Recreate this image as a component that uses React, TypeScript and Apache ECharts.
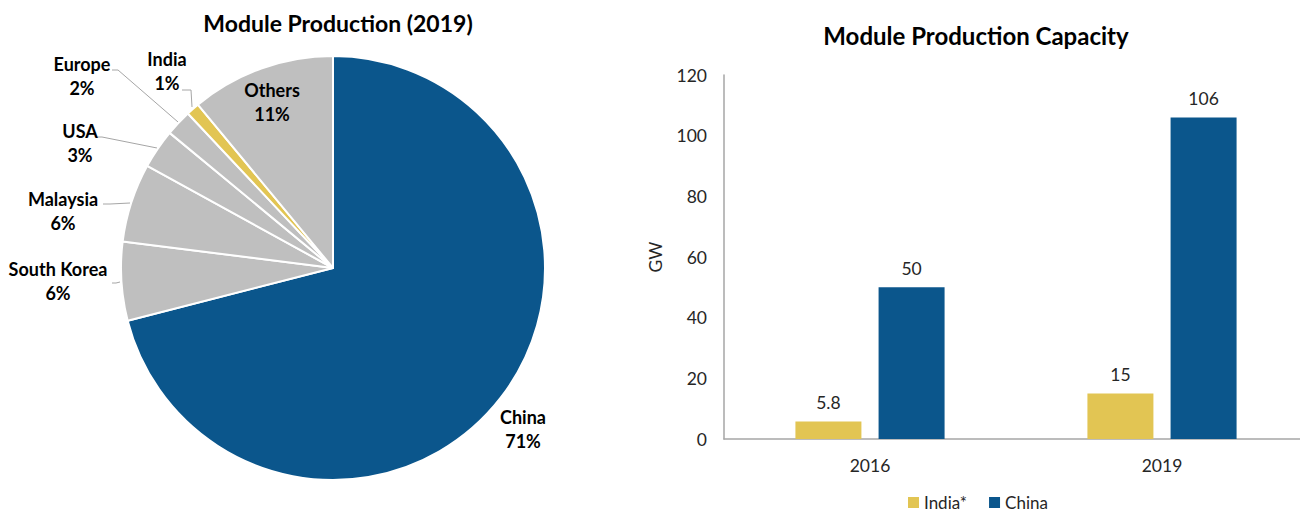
import React, { useEffect, useRef } from "react";
import * as echarts from "echarts";

const FONT = "Lato, 'Open Sans', sans-serif";

const pieNames = ["China", "South Korea", "Malaysia", "USA", "Europe", "India", "Others"];
const pieValues = [71, 6, 6, 3, 2, 1, 11];

const barCategories = ["2016", "2019"];
const indiaValues = [5.8, 15];
const chinaValues = [50, 106];

const BLUE = "#0B568C";
const GRAY = "#BFBFBF";
const YELLOW = "#E2C553";
const pieColors: Record<string, string> = {
  China: BLUE,
  India: YELLOW,
};

// label placement (anchor = centre of two-line label) and leader lines
const labelPlacement: Record<string, { x: number; y: number; line?: number[][] }> = {
  China: { x: 523, y: 429 },
  "South Korea": { x: 58, y: 281, line: [[120, 282], [116, 283], [112, 283]] },
  Malaysia: { x: 63, y: 211, line: [[130, 203], [110, 204], [103, 204]] },
  USA: { x: 80, y: 143, line: [[157, 148], [102, 137], [97, 137]] },
  Europe: { x: 82, y: 76, line: [[178, 122], [118, 70], [112, 70]] },
  India: { x: 167, y: 71, line: [[192, 107], [191, 90], [182, 90]] },
  Others: { x: 272, y: 102 },
};

export default function App() {
  const ref = useRef<HTMLDivElement>(null);
  useEffect(() => {
    if (!ref.current) return;
    const chart = echarts.init(ref.current, null, { renderer: "svg" });
    chart.setOption({
      animation: false,
      backgroundColor: "#ffffff",
      textStyle: { fontFamily: FONT },
      title: [
        {
          text: "Module Production (2019)",
          left: 338,
          top: 11,
          textAlign: "center",
          padding: 0,
          textStyle: { fontFamily: FONT, fontSize: 23, fontWeight: "bold", color: "#000" },
        },
        {
          text: "Module Production Capacity",
          left: 976,
          top: 23,
          textAlign: "center",
          padding: 0,
          textStyle: { fontFamily: FONT, fontSize: 24, fontWeight: "bold", color: "#000" },
        },
      ],
      legend: {
        data: ["India*", "China"],
        left: 908,
        top: 494,
        padding: 0,
        itemWidth: 11,
        itemHeight: 11,
        itemGap: 22,
        icon: "rect",
        textStyle: { fontFamily: FONT, fontSize: 17, color: "#262626", lineHeight: 16 },
      },
      grid: { left: 724, top: 75, width: 584, height: 364 },
      xAxis: {
        type: "category",
        data: barCategories,
        axisLine: { show: true, lineStyle: { color: "#a6a6a6", width: 1.5 } },
        axisTick: { show: false },
        axisLabel: { fontFamily: FONT, fontSize: 17.5, color: "#262626", margin: 17 },
      },
      yAxis: {
        type: "value",
        min: 0,
        max: 120,
        interval: 20,
        name: "GW",
        nameLocation: "middle",
        nameGap: 60,
        nameTextStyle: { fontFamily: FONT, fontSize: 17.5, color: "#262626" },
        axisLine: { show: true, lineStyle: { color: "#a6a6a6", width: 1.5 } },
        axisTick: { show: false },
        splitLine: { show: false },
        axisLabel: { fontFamily: FONT, fontSize: 17.5, color: "#262626", margin: 17 },
      },
      series: [
        {
          type: "pie",
          center: [333, 268],
          radius: 212,
          startAngle: 90,
          clockwise: true,
          silent: true,
          itemStyle: { borderColor: "#fff", borderWidth: 2 },
          label: {
            show: true,
            position: "outside",
            formatter: "{b}\n{c}%",
            fontFamily: FONT,
            fontSize: 18,
            fontWeight: "bold",
            color: "#000",
            lineHeight: 24,
            align: "center",
            overflow: "none",
          },
          labelLine: { show: true, lineStyle: { color: "#a6a6a6", width: 1 } },
          labelLayout: (params: any) => {
            const name = pieNames[params.dataIndex];
            const p = labelPlacement[name];
            const out: any = { x: p.x, y: p.y, align: "center", verticalAlign: "middle" };
            if (p.line) out.labelLinePoints = p.line;
            return out;
          },
          data: pieNames.map((n, i) => ({
            name: n,
            value: pieValues[i],
            itemStyle: { color: pieColors[n] || GRAY },
            labelLine: { show: !!labelPlacement[n].line },
          })),
        },
        {
          type: "bar",
          name: "India*",
          data: indiaValues,
          barWidth: 66,
          barGap: "26%",
          itemStyle: { color: YELLOW },
          label: {
            show: true,
            position: "top",
            distance: 10,
            fontFamily: FONT,
            fontSize: 17.5,
            color: "#262626",
          },
        },
        {
          type: "bar",
          name: "China",
          data: chinaValues,
          barWidth: 66,
          barGap: "26%",
          itemStyle: { color: BLUE },
          label: {
            show: true,
            position: "top",
            distance: 10,
            fontFamily: FONT,
            fontSize: 17.5,
            color: "#262626",
          },
        },
      ],
    });
    return () => chart.dispose();
  }, []);
  return (
    <div
      style={{
        position: "absolute",
        left: 0,
        top: 0,
        width: 1300,
        height: 512,
        overflow: "hidden",
      }}
    >
      <div ref={ref} style={{ width: 1316, height: 512 }} />
    </div>
  );
}
